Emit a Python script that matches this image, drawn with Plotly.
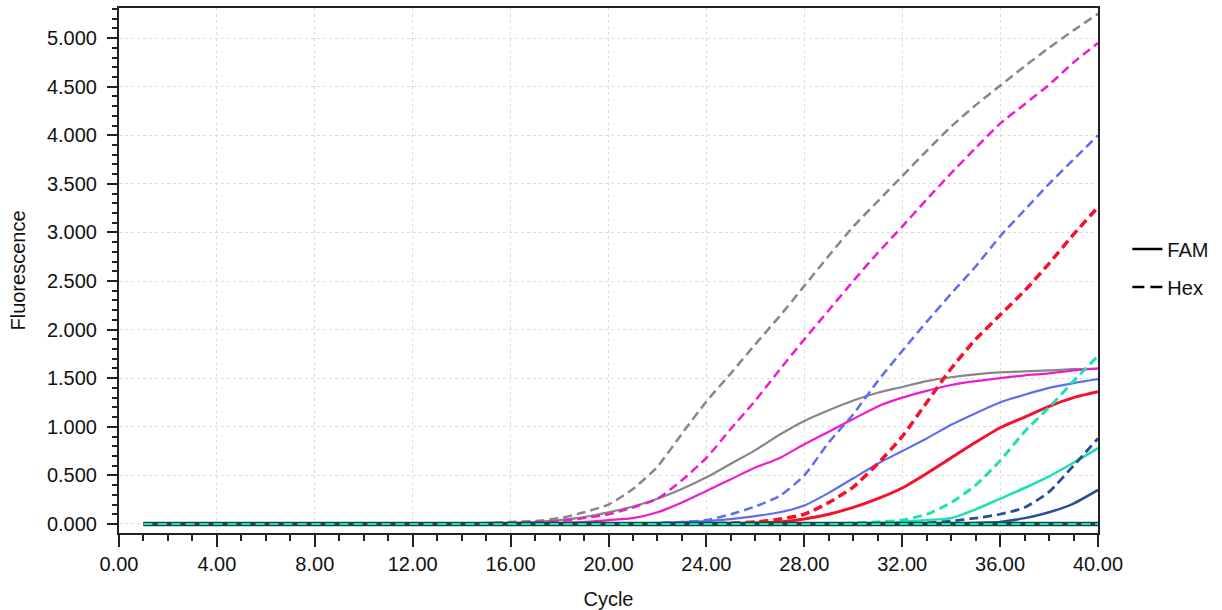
import plotly.graph_objects as go

cycles = list(range(1, 41))

#            1     2     3     4     5     6     7     8     9    10    11    12    13    14    15    16    17    18    19    20    21    22    23    24    25    26    27    28    29    30    31    32    33    34    35    36    37    38    39    40
gray_hex = [0.00, 0.00, 0.00, 0.00, 0.00, 0.00, 0.00, 0.00, 0.00, 0.00, 0.00, 0.00, 0.00, 0.00, 0.01, 0.02, 0.03, 0.06, 0.12, 0.20, 0.36, 0.59, 0.93, 1.26, 1.55, 1.85, 2.14, 2.45, 2.76, 3.06, 3.32, 3.58, 3.84, 4.09, 4.31, 4.51, 4.71, 4.90, 5.08, 5.25]
magenta_hex = [0.00, 0.00, 0.00, 0.00, 0.00, 0.00, 0.00, 0.00, 0.00, 0.00, 0.00, 0.00, 0.00, 0.00, 0.00, 0.01, 0.02, 0.03, 0.06, 0.10, 0.17, 0.26, 0.45, 0.68, 0.98, 1.27, 1.59, 1.90, 2.20, 2.50, 2.79, 3.06, 3.34, 3.61, 3.87, 4.12, 4.32, 4.52, 4.75, 4.95]
blue_hex = [0.00, 0.00, 0.00, 0.00, 0.00, 0.00, 0.00, 0.00, 0.00, 0.00, 0.00, 0.00, 0.00, 0.00, 0.00, 0.00, 0.00, 0.00, 0.00, 0.00, 0.00, 0.01, 0.02, 0.04, 0.10, 0.18, 0.29, 0.50, 0.84, 1.13, 1.47, 1.78, 2.08, 2.37, 2.65, 2.96, 3.23, 3.50, 3.75, 4.00]
red_hex = [0.00, 0.00, 0.00, 0.00, 0.00, 0.00, 0.00, 0.00, 0.00, 0.00, 0.00, 0.00, 0.00, 0.00, 0.00, 0.00, 0.00, 0.00, 0.00, 0.00, 0.00, 0.00, 0.00, 0.00, 0.01, 0.02, 0.05, 0.10, 0.22, 0.38, 0.62, 0.90, 1.25, 1.60, 1.90, 2.15, 2.40, 2.68, 2.98, 3.26]
teal_hex = [0.00, 0.00, 0.00, 0.00, 0.00, 0.00, 0.00, 0.00, 0.00, 0.00, 0.00, 0.00, 0.00, 0.00, 0.00, 0.00, 0.00, 0.00, 0.00, 0.00, 0.00, 0.00, 0.00, 0.00, 0.00, 0.00, 0.00, 0.00, 0.00, 0.01, 0.02, 0.04, 0.10, 0.22, 0.40, 0.65, 0.95, 1.20, 1.47, 1.73]
navy_hex = [0.00, 0.00, 0.00, 0.00, 0.00, 0.00, 0.00, 0.00, 0.00, 0.00, 0.00, 0.00, 0.00, 0.00, 0.00, 0.00, 0.00, 0.00, 0.00, 0.00, 0.00, 0.00, 0.00, 0.00, 0.00, 0.00, 0.00, 0.00, 0.00, 0.00, 0.00, 0.00, 0.01, 0.03, 0.06, 0.10, 0.17, 0.33, 0.60, 0.88]

gray_fam = [0.00, 0.00, 0.00, 0.00, 0.00, 0.00, 0.00, 0.00, 0.00, 0.00, 0.00, 0.00, 0.00, 0.00, 0.01, 0.01, 0.02, 0.04, 0.07, 0.12, 0.18, 0.26, 0.36, 0.48, 0.62, 0.76, 0.92, 1.06, 1.17, 1.27, 1.35, 1.41, 1.47, 1.51, 1.54, 1.56, 1.57, 1.58, 1.595, 1.60]
magenta_fam = [0.00, 0.00, 0.00, 0.00, 0.00, 0.00, 0.00, 0.00, 0.00, 0.00, 0.00, 0.00, 0.00, 0.00, 0.00, 0.00, 0.01, 0.01, 0.02, 0.04, 0.06, 0.12, 0.22, 0.34, 0.46, 0.58, 0.68, 0.82, 0.95, 1.08, 1.21, 1.30, 1.37, 1.43, 1.47, 1.50, 1.53, 1.55, 1.58, 1.60]
blue_fam = [0.00, 0.00, 0.00, 0.00, 0.00, 0.00, 0.00, 0.00, 0.00, 0.00, 0.00, 0.00, 0.00, 0.00, 0.00, 0.00, 0.00, 0.00, 0.00, 0.00, 0.00, 0.01, 0.02, 0.03, 0.05, 0.08, 0.12, 0.19, 0.32, 0.47, 0.62, 0.75, 0.88, 1.02, 1.14, 1.25, 1.33, 1.40, 1.45, 1.49]
red_fam = [0.00, 0.00, 0.00, 0.00, 0.00, 0.00, 0.00, 0.00, 0.00, 0.00, 0.00, 0.00, 0.00, 0.00, 0.00, 0.00, 0.00, 0.00, 0.00, 0.00, 0.00, 0.00, 0.00, 0.00, 0.00, 0.01, 0.02, 0.05, 0.10, 0.17, 0.26, 0.37, 0.52, 0.68, 0.84, 0.99, 1.10, 1.21, 1.30, 1.36]
teal_fam = [0.00, 0.00, 0.00, 0.00, 0.00, 0.00, 0.00, 0.00, 0.00, 0.00, 0.00, 0.00, 0.00, 0.00, 0.00, 0.00, 0.00, 0.00, 0.00, 0.00, 0.00, 0.00, 0.00, 0.00, 0.00, 0.00, 0.00, 0.00, 0.00, 0.00, 0.01, 0.02, 0.04, 0.06, 0.15, 0.26, 0.37, 0.49, 0.63, 0.78]
navy_fam = [0.00, 0.00, 0.00, 0.00, 0.00, 0.00, 0.00, 0.00, 0.00, 0.00, 0.00, 0.00, 0.00, 0.00, 0.00, 0.00, 0.00, 0.00, 0.00, 0.00, 0.00, 0.00, 0.00, 0.00, 0.00, 0.00, 0.00, 0.00, 0.00, 0.00, 0.00, 0.00, 0.00, 0.00, 0.01, 0.02, 0.06, 0.12, 0.21, 0.35]

ntc_fam = [0.00, 0.00, 0.00, 0.00, 0.00, 0.00, 0.00, 0.00, 0.00, 0.00, 0.00, 0.00, 0.00, 0.00, 0.00, 0.00, 0.00, 0.00, 0.00, 0.00, 0.00, 0.00, 0.00, 0.00, 0.00, 0.00, 0.00, 0.00, 0.00, 0.00, 0.00, 0.00, 0.00, 0.00, 0.00, 0.00, 0.00, 0.00, 0.00, 0.00]
ntc_hex = [0.00, 0.00, 0.00, 0.00, 0.00, 0.00, 0.00, 0.00, 0.00, 0.00, 0.00, 0.00, 0.00, 0.00, 0.00, 0.00, 0.00, 0.00, 0.00, 0.00, 0.00, 0.00, 0.00, 0.00, 0.00, 0.00, 0.00, 0.00, 0.00, 0.00, 0.00, 0.00, 0.00, 0.00, 0.00, 0.00, 0.00, 0.00, 0.00, 0.00]

x_tick_vals = [0, 4, 8, 12, 16, 20, 24, 28, 32, 36, 40]
x_tick_text = ["0.00", "4.00", "8.00", "12.00", "16.00", "20.00", "24.00", "28.00", "32.00", "36.00", "40.00"]
y_tick_vals = [0, 0.5, 1, 1.5, 2, 2.5, 3, 3.5, 4, 4.5, 5]
y_tick_text = ["0.000", "0.500", "1.000", "1.500", "2.000", "2.500", "3.000", "3.500", "4.000", "4.500", "5.000"]

GRAY = "#878787"
MAGENTA = "#ee1ccc"
BLUE = "#5d6ef0"
RED = "#f5102e"
TEAL = "#1fe0b4"
NAVY = "#2b4f96"
DARKTEAL = "#124a4a"
DASH = "9px,5px"

series = [
    (gray_fam, GRAY, "solid", 2.2),
    (magenta_fam, MAGENTA, "solid", 2.2),
    (blue_fam, BLUE, "solid", 2.2),
    (red_fam, RED, "solid", 3.0),
    (teal_fam, TEAL, "solid", 2.5),
    (navy_fam, NAVY, "solid", 2.5),
    (gray_hex, GRAY, DASH, 2.5),
    (magenta_hex, MAGENTA, DASH, 2.5),
    (blue_hex, BLUE, DASH, 2.5),
    (red_hex, RED, DASH, 3.5),
    (teal_hex, TEAL, DASH, 3.0),
    (navy_hex, NAVY, DASH, 2.8),
    (ntc_fam, DARKTEAL, "solid", 4.5),
    (ntc_hex, TEAL, DASH, 2.0),
]

fig = go.Figure()
for vals, color, dash, w in series:
    fig.add_trace(go.Scatter(
        x=cycles, y=vals, mode="lines", showlegend=False, hoverinfo="skip",
        line=dict(color=color, dash=dash, width=w, shape="spline", smoothing=0.6),
    ))

fig.add_trace(go.Scatter(x=[None], y=[None], mode="lines", name="FAM",
                         legendgroup="fam", line=dict(color="black", width=2.5)))
fig.add_trace(go.Scatter(x=[None], y=[None], mode="lines", name="Hex",
                         legendgroup="hex", line=dict(color="black", width=2.5, dash="12px,6px")))

FONT = "Liberation Sans, Arial, sans-serif"
fig.update_layout(
    width=1222, height=610,
    margin=dict(l=119, r=121, t=8, b=77),
    paper_bgcolor="white", plot_bgcolor="white",
    font=dict(family=FONT, size=20, color="#111"),
    legend=dict(x=1.03, y=0.505, xanchor="left", yanchor="middle",
                font=dict(size=20), tracegroupgap=9, bgcolor="rgba(0,0,0,0)"),
    xaxis=dict(
        range=[0, 40], tickmode="array", tickvals=x_tick_vals, ticktext=x_tick_text,
        ticks="outside", ticklen=12, tickwidth=1.5, tickcolor="#222",
        minor=dict(dtick=1, ticks="outside", ticklen=6, tickwidth=1.5, tickcolor="#222",
                   showgrid=False),
        showline=True, linecolor="#222", linewidth=2, mirror=True,
        showgrid=True, gridcolor="#dcdcdc", griddash="dot", gridwidth=1,
        zeroline=False, ticklabelstandoff=0, automargin=False,
        title=dict(text="Cycle", font=dict(size=20), standoff=28),
        tickfont=dict(size=20),
    ),
    yaxis=dict(
        range=[-0.093, 5.31], tickmode="array", tickvals=y_tick_vals, ticktext=y_tick_text,
        ticks="outside", ticklen=10, tickwidth=1.5, tickcolor="#222",
        minor=dict(dtick=0.1, tick0=0, ticks="outside", ticklen=5, tickwidth=1.5, tickcolor="#222",
                   showgrid=False),
        showline=True, linecolor="#222", linewidth=2, mirror=True,
        showgrid=True, gridcolor="#dcdcdc", griddash="dot", gridwidth=1,
        zeroline=False, ticklabelstandoff=6, automargin=False,
        title=dict(text="Fluorescence", font=dict(size=20), standoff=16),
        tickfont=dict(size=20),
    ),
)

fig.write_html("out.html")
